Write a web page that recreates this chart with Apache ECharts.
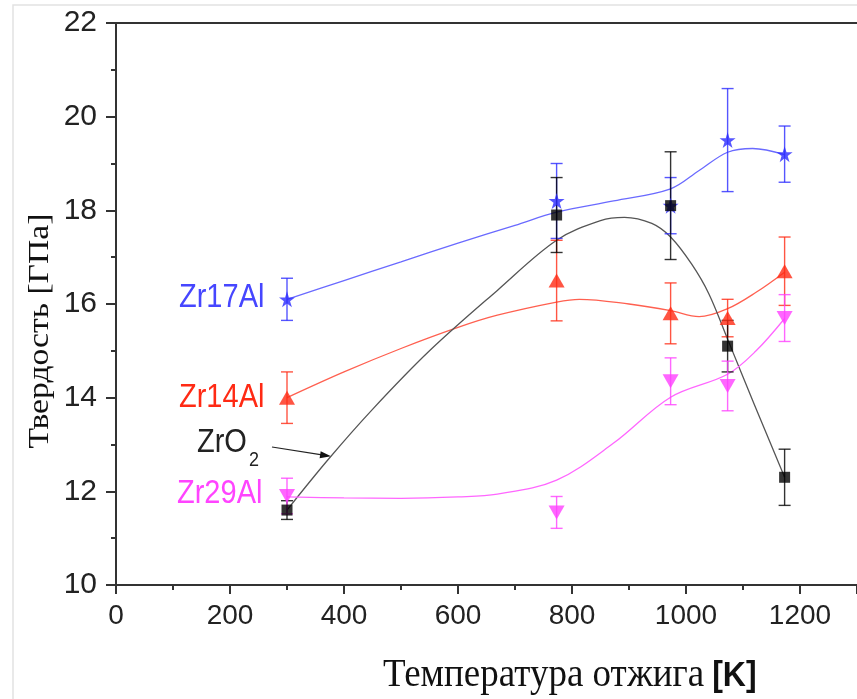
<!DOCTYPE html>
<html>
<head>
<meta charset="utf-8">
<script src="https://cdn.jsdelivr.net/npm/echarts@6/dist/echarts.min.js"></script>
<style>
  html, body { margin: 0; padding: 0; background: #fff; }
  #chart { width: 857px; height: 699px; }
</style>
</head>
<body>
<div id="chart"></div>
<script>
// измеренные точки (температура отжига, К)
const temps = [300, 773, 973, 1073, 1173]

const zr17Al = [16.1, 18.2, 18.1, 19.5, 19.2]
const zr17AlErr = [0.45, 0.8, 0.6, 1.1, 0.6]
const zr14Al = [14.0, 16.5, 15.8, 15.7, 16.7]
const zr14AlErr = [0.55, 0.86, 0.65, 0.4, 0.73]
const zrO2 = [11.6, 17.9, 18.1, 15.1, 12.3]
const zrO2Err = [0.2, 0.8, 1.15, 0.55, 0.6]
const zr29Al = [11.9, 11.55, 14.35, 14.25, 15.7]
const zr29AlErr = [0.38, 0.34, 0.5, 0.53, 0.5]

// аппроксимирующие кривые
const fitT17 = [300, 400, 500, 600, 700, 773, 873, 973, 1023, 1073, 1117, 1173]
const fit17 = [16.1, 16.5, 16.9, 17.3, 17.68, 17.96, 18.2, 18.46, 18.85, 19.24, 19.32, 19.19]
const fitT14 = [300, 400, 500, 600, 669, 773, 813, 900, 973, 1023, 1073, 1123, 1173]
const fit14 = [14.0, 14.55, 15.05, 15.5, 15.76, 16.04, 16.1, 16.0, 15.86, 15.73, 15.9, 16.25, 16.68]
const fitTO2 = [300, 373, 450, 550, 669, 773, 850, 892, 940, 973, 1010, 1040, 1073, 1120, 1173]
const fitO2 = [11.6, 12.69, 13.75, 15.0, 16.29, 17.36, 17.78, 17.85, 17.72, 17.43, 16.85, 16.22, 15.25, 13.85, 12.3]
const fitT29 = [300, 400, 500, 600, 669, 773, 873, 973, 1073, 1123, 1173]
const fit29 = [11.88, 11.86, 11.85, 11.88, 11.94, 12.24, 13.03, 14.01, 14.5, 15.0, 15.69]

const xTicks = { min: 0, max: 1300, interval: 200 }
const yTicks = { min: 10, max: 22, interval: 2 }

const groups = [
  { name: 'Zr17Al', y: zr17Al, err: zr17AlErr, fx: fitT17, fy: fit17, color: '#2b2bff', line: '#6a6aff', symbol: 'path://M50,0 L61.8,36.2 L100,36.2 L69.1,58.8 L80.9,95.1 L50,72.7 L19.1,95.1 L30.9,58.8 L0,36.2 L38.2,36.2 Z', size: 16, rotate: 0 },
  { name: 'Zr14Al', y: zr14Al, err: zr14AlErr, fx: fitT14, fy: fit14, color: '#ff2a14', line: '#ff6050', symbol: 'triangle', size: [16, 14], rotate: 0 },
  { name: 'ZrO2', y: zrO2, err: zrO2Err, fx: fitTO2, fy: fitO2, color: '#000000', line: '#555555', symbol: 'rect', size: 11, rotate: 0 },
  { name: 'Zr29Al', y: zr29Al, err: zr29AlErr, fx: fitT29, fy: fit29, color: '#ff40ff', line: '#ff66ff', symbol: 'triangle', size: [16, 14], rotate: 180 }
]

function errorBarSeries(g) {
  return {
    type: 'custom',
    name: g.name + ' err',
    z: 3,
    silent: true,
    renderItem: (params, api) => {
      const x = api.value(0)
      const y = api.value(1)
      const e = api.value(2)
      const top = api.coord([x, y + e])
      const bot = api.coord([x, y - e])
      const w = 6
      const st = { stroke: g.color, lineWidth: 1.4, opacity: 0.8 }
      return {
        type: 'group',
        children: [
          { type: 'line', shape: { x1: top[0], y1: top[1], x2: bot[0], y2: bot[1] }, style: st },
          { type: 'line', shape: { x1: top[0] - w, y1: top[1], x2: top[0] + w, y2: top[1] }, style: st },
          { type: 'line', shape: { x1: bot[0] - w, y1: bot[1], x2: bot[0] + w, y2: bot[1] }, style: st }
        ]
      }
    },
    data: temps.map((t, i) => [t, g.y[i], g.err[i]])
  }
}

let series = []
groups.forEach((g) => {
  series.push({
    type: 'line',
    name: g.name + ' fit',
    smooth: 0.35,
    showSymbol: false,
    z: 2,
    lineStyle: { color: g.line, width: 1.3 },
    data: g.fx.map((t, i) => [t, g.fy[i]])
  })
  series.push(errorBarSeries(g))
  series.push({
    type: 'scatter',
    name: g.name,
    symbol: g.symbol,
    symbolSize: g.size,
    symbolRotate: g.rotate,
    z: 5,
    itemStyle: { color: g.color },
    data: temps.map((t, i) => [t, g.y[i]])
  })
})

const axisColor = '#333'
const tickFont = 'Liberation Sans, Arial, sans-serif'

const myChart = echarts.init(document.getElementById('chart'))
myChart.setOption({
  animation: false,
  backgroundColor: '#fff',
  grid: { left: 116, right: -5, top: 23, bottom: 114 },
  xAxis: [
    {
      type: 'value',
      min: xTicks.min,
      max: xTicks.max,
      interval: xTicks.interval,
      axisLine: { lineStyle: { color: axisColor, width: 2 } },
      axisTick: { length: 9, lineStyle: { color: axisColor, width: 2 } },
      minorTick: { show: true, splitNumber: 2, length: 5, lineStyle: { color: axisColor, width: 2 } },
      splitLine: { show: false },
      axisLabel: { color: '#222', fontSize: 28, fontFamily: tickFont, margin: 17, showMaxLabel: false, formatter: (v) => String(v) }
    },
    {
      type: 'value',
      position: 'top',
      min: xTicks.min,
      max: xTicks.max,
      axisLine: { show: true, onZero: false, lineStyle: { color: axisColor, width: 2 } },
      axisTick: { show: false },
      axisLabel: { show: false },
      splitLine: { show: false }
    }
  ],
  yAxis: {
    type: 'value',
    min: yTicks.min,
    max: yTicks.max,
    interval: yTicks.interval,
    axisLine: { show: true, lineStyle: { color: axisColor, width: 2 } },
    axisTick: { show: true, length: 10, lineStyle: { color: axisColor, width: 2 } },
    minorTick: { show: true, splitNumber: 2, length: 5, lineStyle: { color: axisColor, width: 2 } },
    splitLine: { show: false },
    axisLabel: { color: '#222', fontSize: 30, fontFamily: tickFont, margin: 19 }
  },
  graphic: [
    { type: 'rect', shape: { x: 13, y: 5, width: 900, height: 800 }, style: { fill: 'none', stroke: '#e2e2e2', lineWidth: 1.5 }, z: -1 },
    {
      type: 'text', x: 40, y: 331, rotation: Math.PI / 2, scaleX: 1.12,
      style: { text: 'Твердость [ГПа]', font: '30px "Liberation Serif", serif', fill: '#111', textAlign: 'center', textVerticalAlign: 'middle' }
    },
    {
      type: 'text', x: 383, y: 676, scaleY: 1.08,
      style: {
        text: '{a|Температура отжига}{b|[K]}',
        textVerticalAlign: 'middle',
        rich: {
          a: { font: '37px "Liberation Serif", serif', fill: '#111' },
          b: { font: 'bold 32px "Liberation Sans", Arial, sans-serif', fill: '#111', padding: [0, 0, 0, 8] }
        }
      }
    },
    { type: 'text', x: 179, y: 298, scaleY: 1.15, style: { text: 'Zr17Al', font: '29px "Liberation Sans", Arial, sans-serif', fill: '#4646ff', textVerticalAlign: 'middle' } },
    { type: 'text', x: 179, y: 398, scaleY: 1.15, style: { text: 'Zr14Al', font: '29px "Liberation Sans", Arial, sans-serif', fill: '#ff2a14', textVerticalAlign: 'middle' } },
    { type: 'text', x: 197, y: 443, scaleY: 1.15, style: { text: 'ZrO', font: '29px "Liberation Sans", Arial, sans-serif', fill: '#222', textVerticalAlign: 'middle' } },
    { type: 'text', x: 249, y: 460, scaleY: 1.15, style: { text: '2', font: '18px "Liberation Sans", Arial, sans-serif', fill: '#222', textVerticalAlign: 'middle' } },
    { type: 'text', x: 177, y: 494, scaleY: 1.15, style: { text: 'Zr29Al', font: '29px "Liberation Sans", Arial, sans-serif', fill: '#ff44ff', textVerticalAlign: 'middle' } },
    { type: 'line', shape: { x1: 272, y1: 447, x2: 322, y2: 454.8 }, style: { stroke: '#222', lineWidth: 1.2 } },
    { type: 'polygon', shape: { points: [[331, 456.2], [320.7, 451.2], [319.6, 458.2]] }, style: { fill: '#111' } }
  ],
  series: series
})
</script>
</body>
</html>
